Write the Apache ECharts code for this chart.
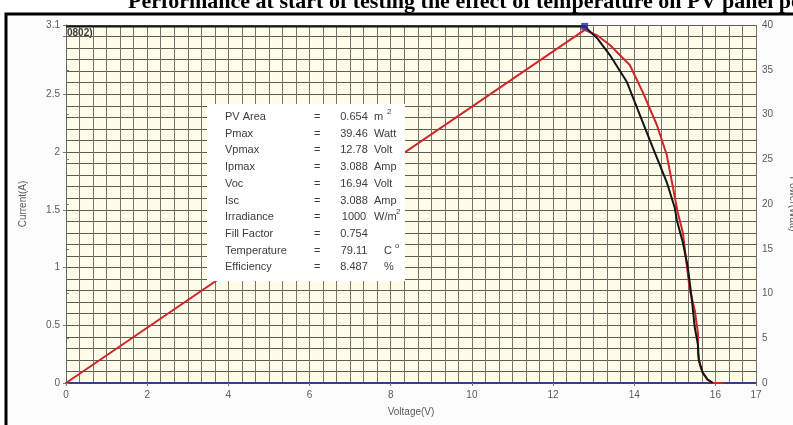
<!DOCTYPE html>
<html>
<head>
<meta charset="utf-8">
<script src="https://cdn.jsdelivr.net/npm/echarts@6/dist/echarts.min.js"></script>
<style>
  html, body { margin: 0; padding: 0; background: #ffffff; }
  #chart { width: 793px; height: 425px; }
</style>
</head>
<body>
<div id="chart"></div>
<script>
// Voltage (V) vs current (A) of the panel
const ivVoltage = [0, 12.78, 13.10, 13.40, 13.82, 14.14, 14.46, 14.80, 15.00, 15.05, 15.20, 15.32, 15.42, 15.49, 15.57, 15.59, 15.69, 15.81, 15.94];
const ivCurrent = [3.088, 3.088, 2.98, 2.84, 2.606, 2.32, 2.035, 1.74, 1.515, 1.41, 1.212, 1.004, 0.719, 0.485, 0.33, 0.20, 0.087, 0.03, 0];

// Voltage (V) vs power (W)
const pvVoltage = [0, 12.78, 13.10, 13.40, 13.89, 14.21, 14.56, 14.80, 15.07, 15.20, 15.30, 15.37, 15.49, 15.57, 15.57, 15.62, 15.69, 15.81, 15.94, 16.2];
const pvPower = [0, 39.46, 38.8, 37.76, 35.53, 32.5, 28.8, 25.5, 19.1, 16.76, 12.96, 10.39, 8.16, 5.59, 3.35, 2.0, 1.12, 0.34, 0, 0];

// Maximum power point
const mppVoltage = 12.78;
const mppCurrent = 3.088;

// Summary table rows
const infoLabels = ['PV Area', 'Pmax', 'Vpmax', 'Ipmax', 'Voc', 'Isc', 'Irradiance', 'Fill Factor', 'Temperature', 'Efficiency'];
const infoValues = ['0.654', '39.46', '12.78', '3.088', '16.94', '3.088', '1000', '0.754', '79.11', '8.487'];
const infoUnits = ['m', 'Watt', 'Volt', 'Amp', 'Volt', 'Amp', 'W/m', '', 'C', '%'];
const infoSup = ['2', '', '', '', '', '', '2', '', 'o', ''];

const titleText = 'Performance at start of testing the effect of temperature on PV panel performance';
const titleVisible = 'Performance at start of testing the effect of temperature on PV panel p';

const chart = echarts.init(document.getElementById('chart'));

const textFont = 'Liberation Sans, Arial, sans-serif';
const labelColor = '#5a5a5a';
const titleFont = 'bold 22px "Liberation Serif", "Times New Roman", serif';

// place the heading so that it runs off the right edge
const measureCtx = document.createElement('canvas').getContext('2d');
measureCtx.font = titleFont;
const titleX = 791 - measureCtx.measureText(titleVisible).width;

const gridLeft = 66, gridTop = 25, gridWidth = 690, gridHeight = 358;

// Info table drawn as graphic text over a white panel
const tableElements = [];
tableElements.push({
  type: 'rect', z: 100,
  shape: { x: 207, y: 104, width: 198, height: 177 },
  style: { fill: '#ffffff' }
});
infoLabels.forEach((lab, i) => {
  const y = 117 + i * 16.7;
  tableElements.push({ type: 'text', z: 101, x: 225, y: y, style: { text: lab, font: '11px ' + textFont, fill: '#3c3c3c', textVerticalAlign: 'middle' } });
  tableElements.push({ type: 'text', z: 101, x: 314, y: y, style: { text: '=', font: '11px ' + textFont, fill: '#3c3c3c', textVerticalAlign: 'middle' } });
  tableElements.push({ type: 'text', z: 101, x: 354, y: y, style: { text: infoValues[i], font: '11px ' + textFont, fill: '#3c3c3c', textAlign: 'center', textVerticalAlign: 'middle' } });
  if (infoUnits[i]) {
    const ux = (infoUnits[i] === 'C' || infoUnits[i] === '%') ? 384 : 374;
    tableElements.push({ type: 'text', z: 101, x: ux, y: y, style: { text: infoUnits[i], font: '11px ' + textFont, fill: '#3c3c3c', textVerticalAlign: 'middle' } });
    if (infoSup[i]) {
      const supX = infoUnits[i] === 'm' ? ux + 13 : (infoUnits[i] === 'C' ? ux + 11 : ux + 22);
      tableElements.push({ type: 'text', z: 101, x: supX, y: y - 5, style: { text: infoSup[i], font: '8px ' + textFont, fill: '#3c3c3c', textVerticalAlign: 'middle' } });
    }
  }
});

chart.setOption({
  animation: false,
  backgroundColor: '#ffffff',
  graphic: [
    // outer frame
    { type: 'rect', z: -10, silent: true, shape: { x: 6, y: 14, width: 820, height: 440 },
      style: { fill: '#fcfcfc', stroke: '#000000', lineWidth: 3 } },
    // heading (top clipped by page edge)
    { type: 'text', z: 5, x: titleX, y: 13, style: { text: titleText, font: titleFont, fill: '#000000', textVerticalAlign: 'bottom' } },
    { type: 'text', z: 50, x: 67, y: 33, style: { text: '0802)', font: 'bold 10px ' + textFont, fill: '#3a3a3a', textVerticalAlign: 'middle' } }
  ].concat(tableElements),
  grid: {
    left: gridLeft, top: gridTop, width: gridWidth, height: gridHeight,
    outerBoundsMode: 'none', containLabel: false,
    show: true, backgroundColor: '#fffdea', borderWidth: 0
  },
  xAxis: [
    {
      type: 'value', min: 0, max: 17, interval: 2,
      name: 'Voltage(V)', nameLocation: 'middle', nameGap: 24,
      nameTextStyle: { color: labelColor, fontSize: 10, fontFamily: textFont },
      axisLine: { show: true, lineStyle: { color: '#3b3b8f', width: 2 } },
      axisTick: { show: true, length: 3, lineStyle: { color: '#777' } },
      axisLabel: { color: labelColor, fontSize: 10, fontFamily: textFont, margin: 7 },
      splitLine: { show: false }
    },
    {
      type: 'value', min: 0, max: 51, interval: 1, position: 'top',
      axisLine: { show: false }, axisTick: { show: false }, axisLabel: { show: false },
      splitLine: { show: true, lineStyle: { color: '#74746a', width: 1 } }
    }
  ],
  yAxis: [
    {
      type: 'value', min: 0, max: 3.1, interval: 0.5, position: 'left',
      name: 'Current(A)', nameLocation: 'middle', nameGap: 38, nameRotate: 90,
      nameTextStyle: { color: labelColor, fontSize: 10, fontFamily: textFont },
      axisLine: { show: true, lineStyle: { color: '#666', width: 1 } },
      axisTick: { show: true, length: 3, lineStyle: { color: '#777' } },
      axisLabel: { color: labelColor, fontSize: 10, fontFamily: textFont, margin: 6,
        formatter: v => (Math.abs(v - 3) < 1e-9 ? '' : String(v)) },
      splitLine: { show: false }
    },
    {
      type: 'value', min: 0, max: 40, interval: 5, position: 'right',
      name: 'Power(Watt)', nameLocation: 'middle', nameGap: 32, nameRotate: -90,
      nameTextStyle: { color: labelColor, fontSize: 10, fontFamily: textFont },
      axisLine: { show: true, lineStyle: { color: '#666', width: 1 } },
      axisTick: { show: true, length: 3, lineStyle: { color: '#777' } },
      axisLabel: { color: labelColor, fontSize: 10, fontFamily: textFont, margin: 6 },
      splitLine: { show: false }
    },
    {
      type: 'value', min: 0, max: 31, interval: 1, position: 'left', offset: 0,
      axisLine: { show: false }, axisTick: { show: false }, axisLabel: { show: false },
      splitLine: { show: true, lineStyle: { color: '#5c5c52', width: 1 } }
    }
  ],
  series: [
    {
      name: 'Power', type: 'line', xAxisIndex: 0, yAxisIndex: 1,
      data: pvVoltage.map((v, i) => [v, pvPower[i]]),
      showSymbol: false, smooth: false, z: 4,
      lineStyle: { color: '#d0262a', width: 2 }
    },
    {
      name: 'Current', type: 'line', xAxisIndex: 0, yAxisIndex: 0,
      data: ivVoltage.map((v, i) => [v, ivCurrent[i]]),
      showSymbol: false, smooth: false, z: 5,
      lineStyle: { color: '#141414', width: 2 }
    },
    {
      name: 'MPP', type: 'scatter', xAxisIndex: 0, yAxisIndex: 0,
      data: [[mppVoltage, mppCurrent]],
      symbol: 'rect', symbolSize: 7, z: 6,
      itemStyle: { color: '#1f2a9a' }
    }
  ]
});
</script>
</body>
</html>
